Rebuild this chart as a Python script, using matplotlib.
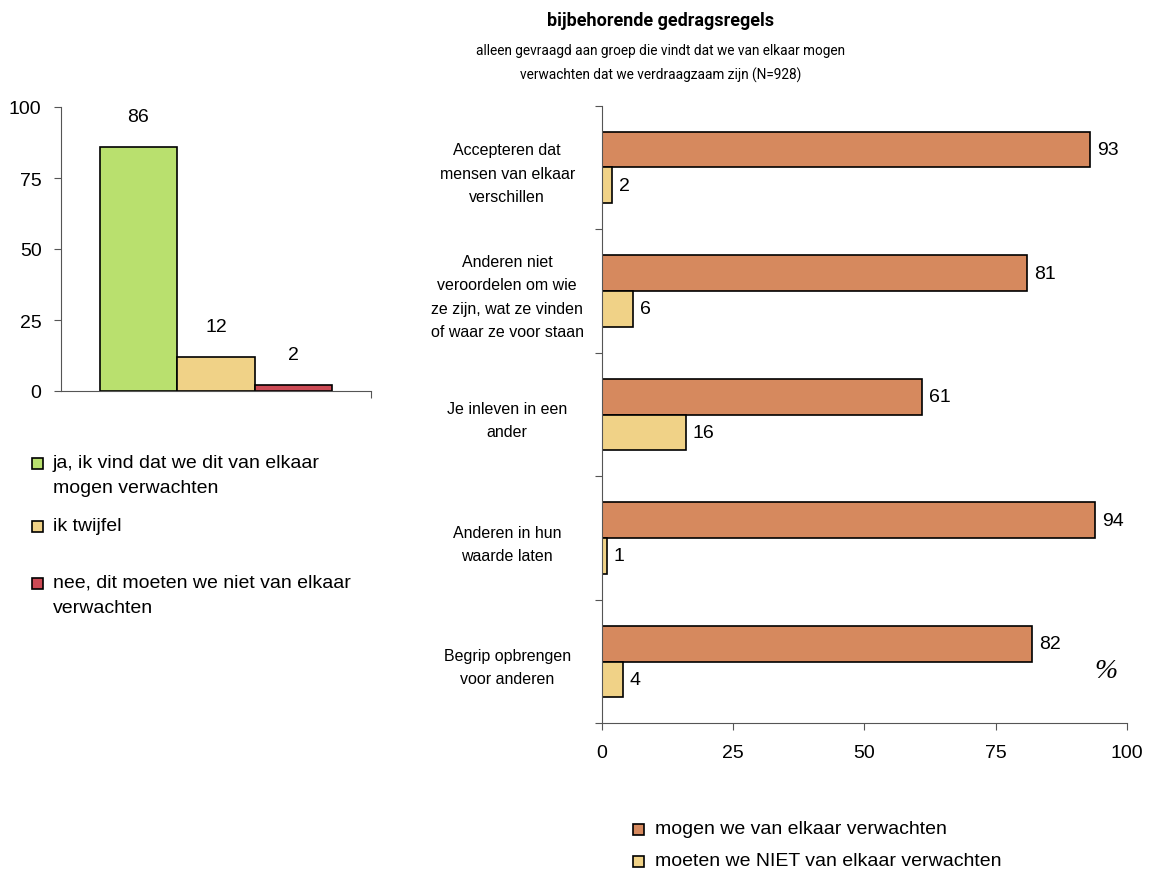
import numpy as np
import matplotlib
matplotlib.use("Agg")
import matplotlib.pyplot as plt
from matplotlib.patches import Rectangle

plt.rcParams['font.family'] = ['Liberation Sans', 'DejaVu Sans']

# DATA links
links_labels = ["ja, ik vind dat we dit van elkaar\nmogen verwachten",
                "ik twijfel",
                "nee, dit moeten we niet van elkaar\nverwachten"]
links_waarden = [86, 12, 2]
links_kleuren = ["#B9E06E", "#F0D287", "#CC4A55"]
links_yticks = [0, 25, 50, 75, 100]

# DATA rechts
regels = ["Accepteren dat\nmensen van elkaar\nverschillen",
          "Anderen niet\nveroordelen om wie\nze zijn, wat ze vinden\nof waar ze voor staan",
          "Je inleven in een\nander",
          "Anderen in hun\nwaarde laten",
          "Begrip opbrengen\nvoor anderen"]
mogen = [93, 81, 61, 94, 82]
moeten = [2, 6, 16, 1, 4]
rechts_series = ["mogen we van elkaar verwachten", "moeten we NIET van elkaar verwachten"]
rechts_kleuren = ["#D6895E", "#F0D287"]
rechts_xticks = [0, 25, 50, 75, 100]

titel = "bijbehorende gedragsregels"
subtitel = "alleen gevraagd aan groep die vindt dat we van elkaar mogen\nverwachten dat we verdraagzaam zijn (N=928)"

smal = ['Roboto', 'Liberation Sans', 'DejaVu Sans']

fig = plt.figure(figsize=(11.56, 8.78), dpi=100)

# linker grafiek
ax1 = fig.add_axes([61 / 1156, 1 - 392 / 878, 310 / 1156, 284 / 878])
w = 0.25
pos = np.array([-0.25, 0, 0.25])
ax1.bar(pos, links_waarden, width=w, color=links_kleuren, edgecolor="black", linewidth=1.2)
for x, v in zip(pos, links_waarden):
    ax1.annotate(str(v), (x, v), xytext=(0, 16), textcoords="offset points",
                 ha="center", va="bottom", fontsize=14)
ax1.set_xlim(-0.5, 0.5)
ax1.set_ylim(0, 100)
ax1.set_yticks(links_yticks)
ax1.set_xticks([0.5])
ax1.set_xticklabels([])
ax1.tick_params(axis="y", direction="out", length=5, pad=9, labelsize=14, color="#555555")
ax1.tick_params(axis="x", direction="out", length=5, color="#555555")
for s in ["top", "right"]:
    ax1.spines[s].set_visible(False)
for s in ["left", "bottom"]:
    ax1.spines[s].set_color("#555555")

# legenda links
leg_y = [464, 527, 584]
for y, lab, kl in zip(leg_y, links_labels, links_kleuren):
    fig.patches.append(Rectangle((32 / 1156, 1 - (y + 6) / 878), 11 / 1156, 11 / 878,
                                 transform=fig.transFigure, facecolor=kl,
                                 edgecolor="black", linewidth=1.2))
    fig.text(53 / 1156, 1 - (y - 9) / 878, lab, fontsize=14, va="top", ha="left",
             linespacing=1.62)

# rechter grafiek
ax2 = fig.add_axes([601.7 / 1156, 1 - 724.3 / 878, 525.3 / 1156, 617.6 / 878])
n = len(regels)
centers = np.arange(n)
h = 0.29
ax2.barh(centers - h / 2, mogen, height=h, color=rechts_kleuren[0], edgecolor="black", linewidth=1.2)
ax2.barh(centers + h / 2, moeten, height=h, color=rechts_kleuren[1], edgecolor="black", linewidth=1.2)
for c, v in zip(centers, mogen):
    ax2.annotate(str(v), (v, c - h / 2), xytext=(5, 0), textcoords="offset points",
                 ha="left", va="center", fontsize=14)
for c, v in zip(centers, moeten):
    ax2.annotate(str(v), (v, c + h / 2), xytext=(5, 0), textcoords="offset points",
                 ha="left", va="center", fontsize=14)
ax2.set_xlim(0, 100)
ax2.set_ylim(n - 0.5, -0.5)
ax2.set_xticks(rechts_xticks)
ax2.set_yticks(np.arange(n + 1) - 0.5)
ax2.set_yticklabels([])
ax2.set_yticks(centers, minor=True)
ax2.set_yticklabels(regels, minor=True, ha="center", fontsize=11.5, linespacing=1.7)
ax2.tick_params(axis="y", which="minor", length=0, pad=68)
ax2.tick_params(axis="y", which="major", direction="out", length=5, color="#555555")
ax2.tick_params(axis="x", direction="out", length=5, pad=10, labelsize=14, color="#555555")
for s in ["top", "right"]:
    ax2.spines[s].set_visible(False)
for s in ["left", "bottom"]:
    ax2.spines[s].set_color("#555555")
ax2.text(0.96, 0.085, "%", transform=ax2.transAxes, fontsize=20, style="italic",
         family="Liberation Serif", ha="center", va="center")

fig.text(661 / 1156, 1 - 21 / 878, titel, fontsize=13, fontweight="bold", ha="center",
         va="center", family=smal)
fig.text(661 / 1156, 1 - 44 / 878, subtitel, fontsize=9.8, ha="center", va="top",
         linespacing=1.85, family=smal)

# legenda rechts
leg2_y = [830, 862]
for y, lab, kl in zip(leg2_y, rechts_series, rechts_kleuren):
    fig.patches.append(Rectangle((633 / 1156, 1 - (y + 6) / 878), 11 / 1156, 11 / 878,
                                 transform=fig.transFigure, facecolor=kl,
                                 edgecolor="black", linewidth=1.2))
    fig.text(655 / 1156, 1 - y / 878, lab, fontsize=14, va="center", ha="left")

fig.savefig("out.png", dpi=100)
